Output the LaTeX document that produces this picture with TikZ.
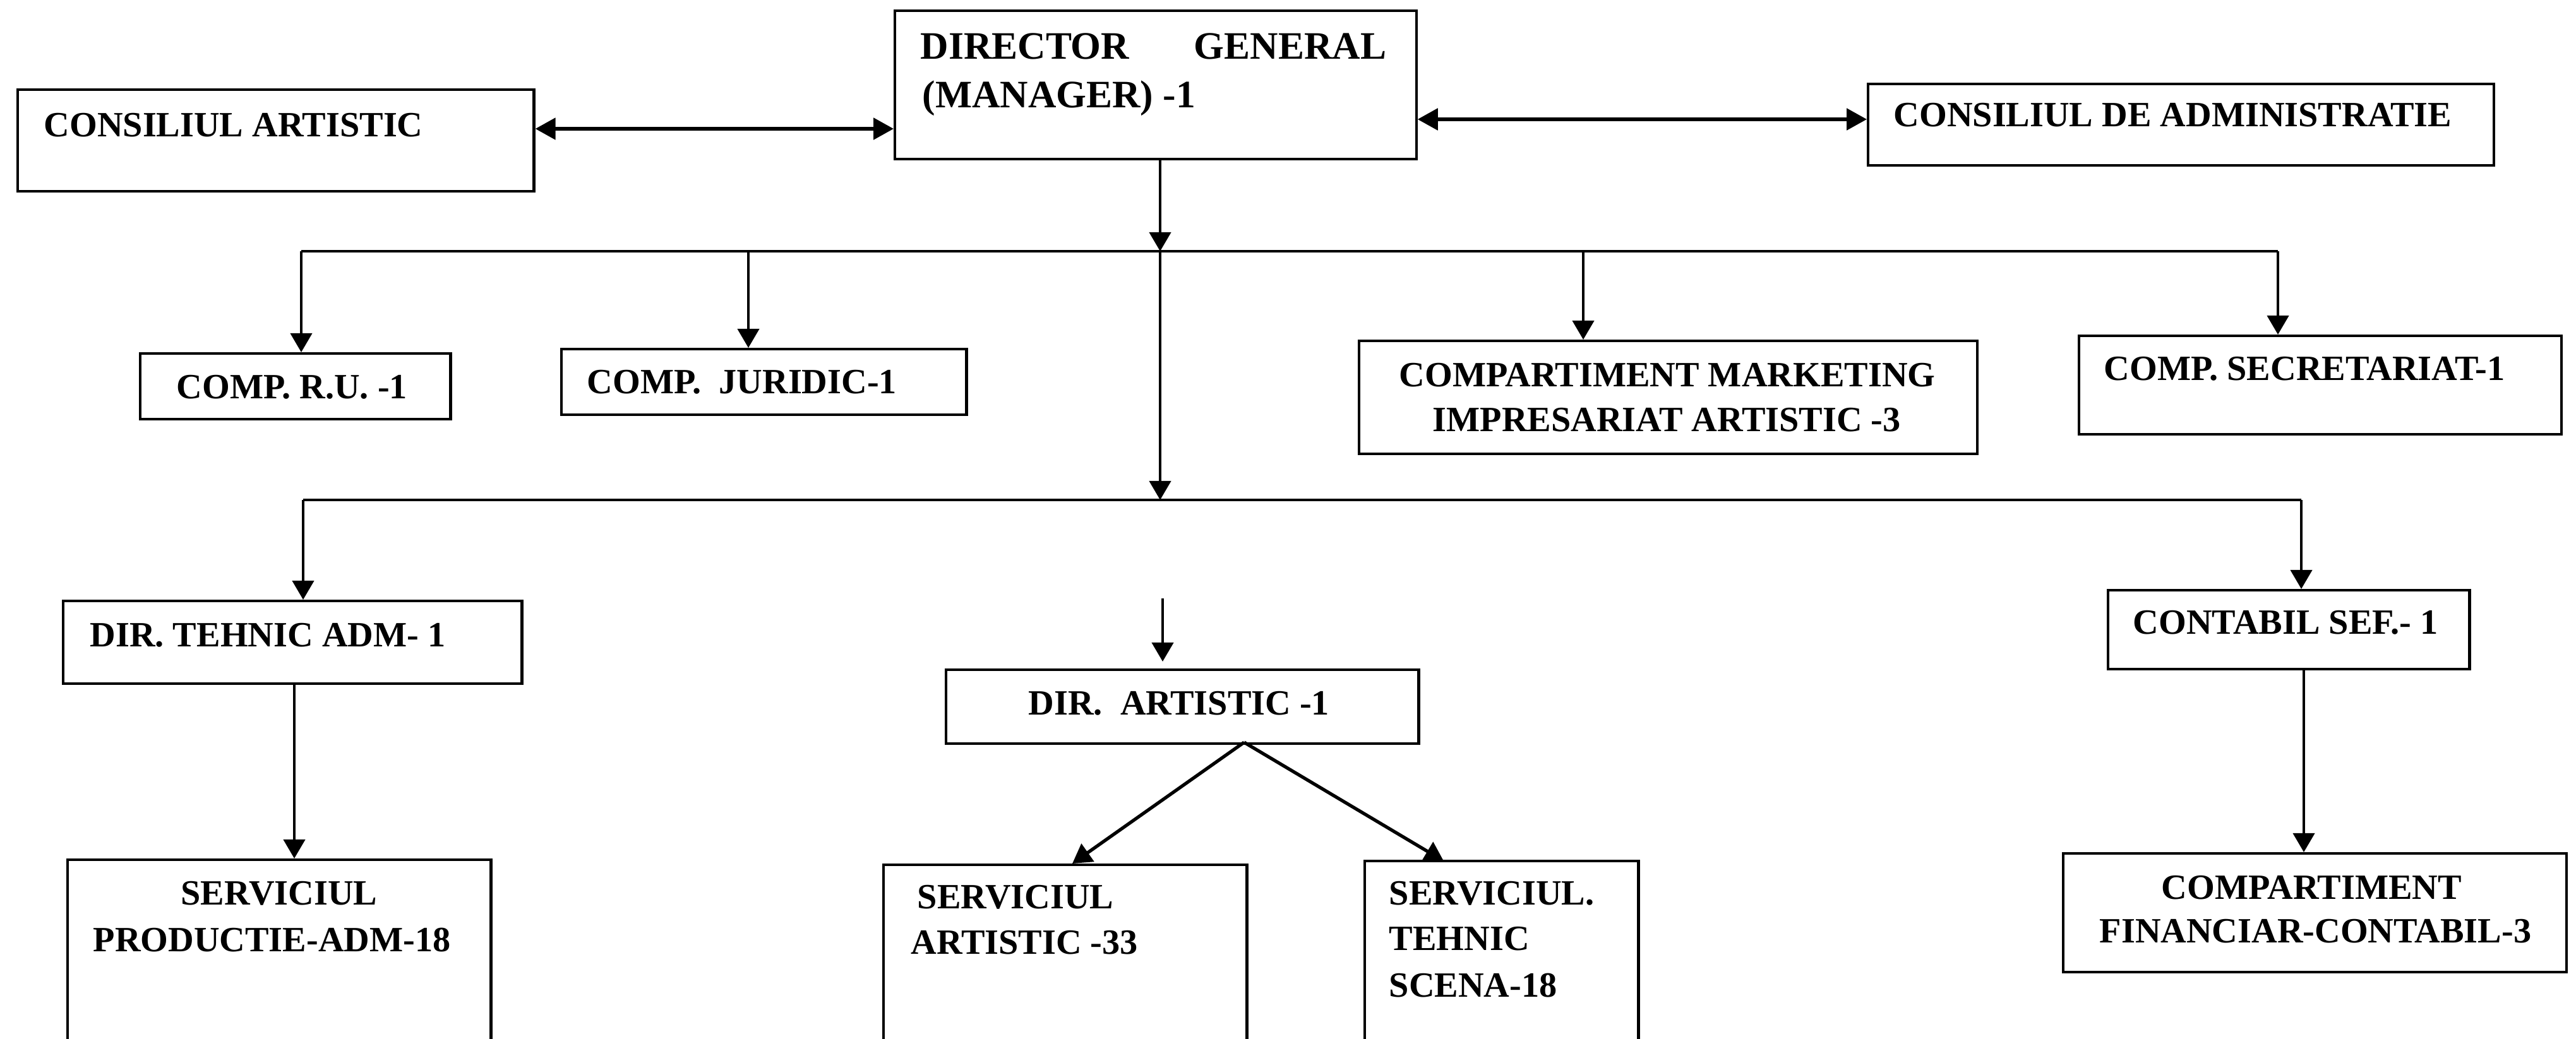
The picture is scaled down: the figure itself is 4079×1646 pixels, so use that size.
\documentclass[tikz,border=0pt]{standalone}
\usepackage{fontspec}
\setmainfont{Liberation Serif}
\usetikzlibrary{arrows.meta}
\begin{document}
\begin{tikzpicture}[x=0.01cm,y=-0.01cm]
\tikzset{
  box/.style={draw, line width=1.2pt, anchor=north west, inner sep=0pt},
  txt/.style={anchor=base west, inner sep=0pt, font=\bfseries\fontsize{16}{19}\selectfont},
  bigtxt/.style={anchor=base west, inner sep=0pt, font=\bfseries\fontsize{17.5}{21}\selectfont},
  ln/.style={line width=1.15pt},
  arr/.style={line width=1.15pt, -{Triangle[length=0.30cm,width=0.34cm]}},
  darr/.style={line width=1.5pt, {Triangle[length=0.32cm,width=0.34cm]}-{Triangle[length=0.32cm,width=0.34cm]}},
}
\useasboundingbox[fill=white] (0,0) rectangle (4079,1646);

% boxes
\node[box, minimum width=8.17cm, minimum height=1.61cm] (ca) at (26,140) {};
\node[box, minimum width=8.25cm, minimum height=2.35cm] (dg) at (1415,15) {};
\node[box, minimum width=9.90cm, minimum height=1.29cm] (cda) at (2956,131) {};
\node[box, minimum width=4.91cm, minimum height=1.04cm] (ru) at (220,558) {};
\node[box, minimum width=6.41cm, minimum height=1.04cm] (jur) at (887,551) {};
\node[box, minimum width=9.78cm, minimum height=1.79cm] (mkt) at (2150,538) {};
\node[box, minimum width=7.63cm, minimum height=1.56cm] (sec) at (3290,530) {};
\node[box, minimum width=7.26cm, minimum height=1.31cm] (dta) at (98,950) {};
\node[box, minimum width=7.48cm, minimum height=1.17cm] (dart) at (1496,1059) {};
\node[box, minimum width=5.72cm, minimum height=1.25cm] (cs) at (3336,933) {};
\node[box, minimum width=6.70cm, minimum height=2.90cm] (sprod) at (105,1360) {};
\node[box, minimum width=5.75cm, minimum height=2.82cm] (sart) at (1397,1368) {};
\node[box, minimum width=4.33cm, minimum height=2.88cm] (steh) at (2159,1362) {};
\node[box, minimum width=7.96cm, minimum height=1.88cm] (fin) at (3265,1350) {};

% texts
\node[txt] (tca) at (69,217) {CONSILIUL ARTISTIC};
\node[bigtxt] (tdg1) at (1457,94) {DIRECTOR};
\node[bigtxt, anchor=base east] (tdg2) at (2196,94) {GENERAL};
\node[bigtxt] (tdg3) at (1460,171) {(MANAGER) -1};
\node[txt] (tcda) at (2998,201) {CONSILIUL DE ADMINISTRATIE};
\node[txt] (tru) at (279,631) {COMP. R.U. -1};
\node[txt] (tjur) at (929,623) {COMP.\ \ JURIDIC-1};
\node[txt] (tmkt1) at (2215,612) {COMPARTIMENT MARKETING};
\node[txt] (tmkt2) at (2268,683) {IMPRESARIAT ARTISTIC -3};
\node[txt] (tsec) at (3331,602) {COMP. SECRETARIAT-1};
\node[txt] (tdta) at (142,1024) {DIR. TEHNIC ADM- 1};
\node[txt] (tdart) at (1628,1132) {DIR.\ \ ARTISTIC -1};
\node[txt] (tcs) at (3377,1004) {CONTABIL SEF.- 1};
\node[txt] (tsp1) at (286,1433) {SERVICIUL};
\node[txt] (tsp2) at (147,1507) {PRODUCTIE-ADM-18};
\node[txt] (tsa1) at (1452,1439) {SERVICIUL};
\node[txt] (tsa2) at (1442,1511) {ARTISTIC -33};
\node[txt] (tst1) at (2199,1433) {SERVICIUL.};
\node[txt] (tst2) at (2199,1505) {TEHNIC};
\node[txt] (tst3) at (2199,1579) {SCENA-18};
\node[txt] (tfin1) at (3422,1424) {COMPARTIMENT};
\node[txt] (tfin2) at (3324,1493) {FINANCIAR-CONTABIL-3};

% coordinates
\coordinate (b1c) at (1837,398);
\coordinate (b1l) at (477,398);
\coordinate (b1r) at (3607,398);
\coordinate (b2c) at (1837,792);
\coordinate (b2l) at (480,792);
\coordinate (b2r) at (3644,792);
\coordinate (fa1) at (1841,948);
\coordinate (fa2) at (1841,1048);
\coordinate (dao) at (1970,1176);

% double arrows
\draw[darr] (ca.east |- 0,204) -- (dg.west |- 0,204);
\draw[darr] (dg.east |- 0,189) -- (cda.west |- 0,189);

% main trunk
\draw[arr] (dg.south -| b1c) -- (b1c);
\draw[arr] (b1c) -- (b2c);

% bus 1
\draw[ln] (b1l) -- (b1r);
\draw[arr] (b1l) -- (b1l |- ru.north);
\draw[arr] (1185,398) -- (1185,551);
\draw[arr] (2507,398) -- (2507,538);
\draw[arr] (b1r) -- (b1r |- sec.north);

% bus 2
\draw[ln] (b2l) -- (b2r);
\draw[arr] (b2l) -- (b2l |- dta.north);
\draw[arr] (b2r) -- (b2r |- cs.north);

% lower arrows
\draw[arr] (466,1081) -- (466,1360);
\draw[arr] (3648,1058) -- (3648,1350);
\draw[arr] (fa1) -- (fa2);
\draw[arr, line width=1.5pt] (dao) -- (1698,1368);
\draw[arr, line width=1.5pt] (dao) -- (2286,1364);
\end{tikzpicture}
\end{document}
